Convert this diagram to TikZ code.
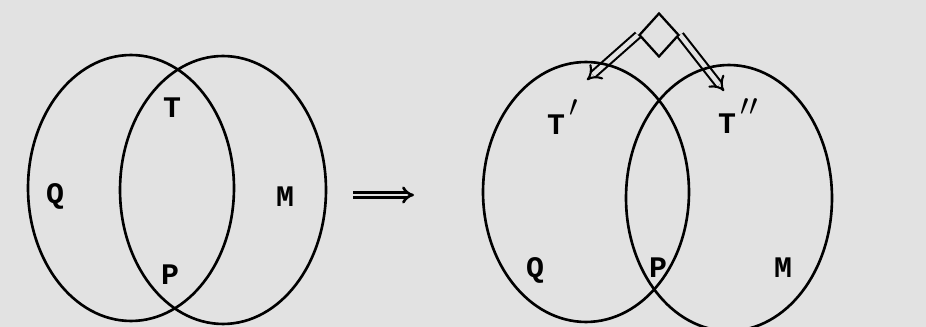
\documentclass[tikz,border=0pt]{standalone}
\usepackage{fontspec}
\usetikzlibrary{shapes,arrows.meta,positioning,calc,backgrounds}
\newfontfamily\plotfont{Liberation Mono}
\definecolor{paper}{RGB}{226,226,226}

\begin{document}
\begin{tikzpicture}[
    x=0.02cm, y=-0.02cm,
    set/.style={draw, ellipse, line width=1.5pt, inner sep=0pt, minimum width=4.12cm},
    lbl/.style={font=\plotfont\bfseries\fontsize{17}{17}\selectfont, inner sep=0pt},
    hollow/.style={double=paper, double distance=2.6pt, line width=1.2pt, -{Implies}},
    fork/.style={draw, diamond, line width=1.3pt, inner sep=0pt, minimum width=0.8cm, minimum height=0.88cm},
]
\useasboundingbox (0,0) rectangle (926,327);

% Before
\node[set, minimum height=5.32cm] (qL) at (131,188) {};
\node[set, minimum height=5.36cm] (mL) at (223,190) {};
\node[lbl] (tL) at (172,108) {T};
\node[lbl] (labqL) at (55,196) {Q};
\node[lbl] (labmL) at (285,197) {M};
\node[lbl] (pL) at (170,275) {P};

% Transition
\coordinate (goS) at (353,195);
\coordinate (goE) at (414,195);
\draw[double=paper, double distance=1.6pt, line width=1.5pt, -{Implies}] (goS) -- (goE);

% After
\node[set, minimum height=5.2cm] (qR) at (586,192) {};
\node[set, minimum height=5.32cm] (mR) at (729,198) {};
\node[lbl] (tR1) at (556,117) {T\rlap{\raisebox{1.1ex}{\,$\prime$}}};
\node[lbl] (tR2) at (727,116) {T\rlap{\raisebox{1.1ex}{\,$\prime\prime$}}};
\node[lbl] (labqR) at (535,270) {Q};
\node[lbl] (pR) at (658,268) {P};
\node[lbl] (labmR) at (783,268) {M};

% Splitting T
\node[fork] (split) at (659,35) {};
\coordinate (tipL) at (587,80);
\coordinate (tipR) at (724,91);

\begin{scope}[on background layer]
  \fill[paper] (0,0) rectangle (926,327);
  \draw[hollow] (split.west) -- (tipL);
  \draw[hollow] (split.east) -- (tipR);
\end{scope}

\end{tikzpicture}
\end{document}
